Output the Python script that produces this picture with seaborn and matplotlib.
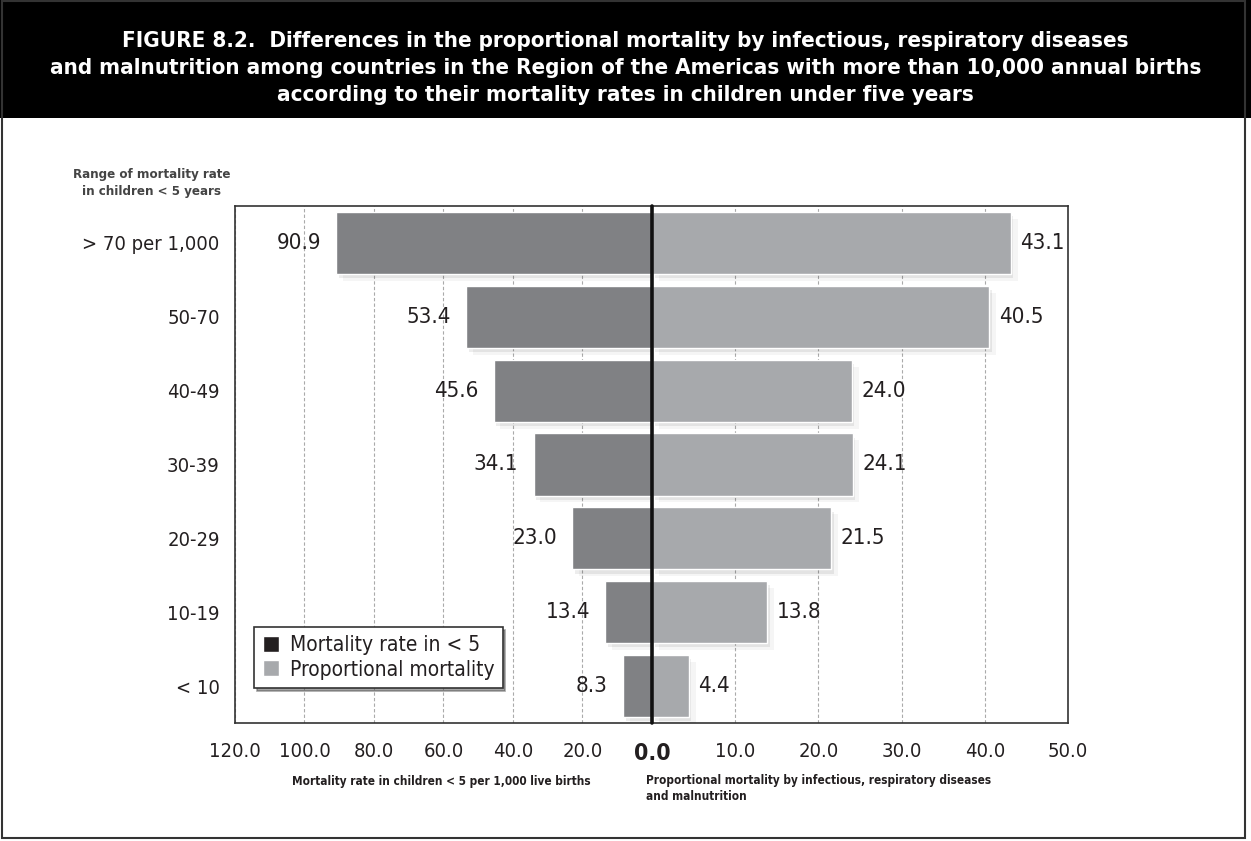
import matplotlib
matplotlib.use("Agg")
import matplotlib.pyplot as plt
import matplotlib.patheffects as pe
from matplotlib.patches import Patch, Rectangle
import seaborn as sns

# data
ranges = ["> 70 per 1,000", "50-70", "40-49", "30-39", "20-29", "10-19", "< 10"]
mortality_rate = [90.9, 53.4, 45.6, 34.1, 23.0, 13.4, 8.3]
proportional = [43.1, 40.5, 24.0, 24.1, 21.5, 13.8, 4.4]
left_ticks = [120, 100, 80, 60, 40, 20]
right_ticks = [0, 10, 20, 30, 40, 50]

DARK = "#808184"
LIGHT = "#a7a9ac"
TXT = "#231f20"

sns.set_style("white")
plt.rcParams["font.family"] = ["DejaVu Sans"]
plt.rcParams["font.stretch"] = "condensed"

W, H = 1251, 841
fig = plt.figure(figsize=(W / 100, H / 100), dpi=100)

# title band and outer border
fig.patches.append(Rectangle((0, 1 - 118 / H), 1, 118 / H, transform=fig.transFigure,
                             facecolor="black", edgecolor="none", zorder=0))
fig.patches.append(Rectangle((2 / W, 3 / H), 1243 / W, 1 - 4 / H, transform=fig.transFigure,
                             facecolor="none", edgecolor="#333333", lw=1.5, zorder=0))
fig.text(0.5, 1 - 68 / H,
         "FIGURE 8.2.  Differences in the proportional mortality by infectious, respiratory diseases\n"
         "and malnutrition among countries in the Region of the Americas with more than 10,000 annual births\n"
         "according to their mortality rates in children under five years",
         ha="center", va="center", color="white", fontsize=16, fontweight="bold", linespacing=1.45)

bottom = 1 - 723 / H
height = (723 - 206) / H
axL = fig.add_axes([235 / W, bottom, (652 - 235) / W, height])
axR = fig.add_axes([652 / W, bottom, (1068 - 652) / W, height], sharey=axL)

shadow = [pe.SimplePatchShadow(offset=(2, -3), shadow_rgbFace="k", alpha=0.07),
          pe.SimplePatchShadow(offset=(5, -5), shadow_rgbFace="k", alpha=0.04),
          pe.Normal()]

sns.barplot(x=mortality_rate, y=ranges, ax=axL, orient="h", color=DARK,
            saturation=1, width=0.84, zorder=3)
sns.barplot(x=proportional, y=ranges, ax=axR, orient="h", color=LIGHT,
            saturation=1, width=0.84, zorder=3)

for ax in (axL, axR):
    for bar in ax.patches:
        bar.set_path_effects(shadow)

axL.set_xlim(120, 0)
axR.set_xlim(0, 50)

axL.bar_label(axL.containers[0], fmt="%.1f", padding=11, fontsize=16, color=TXT)
axR.bar_label(axR.containers[0], fmt="%.1f", padding=7, fontsize=16, color=TXT)

for ax, ticks in ((axL, left_ticks), (axR, right_ticks)):
    ax.set_xticks(ticks)
    ax.set_xticklabels([f"{t:.1f}" for t in ticks])
    ax.tick_params(axis="x", length=0, pad=14, labelsize=14.5, labelcolor=TXT)
    ax.grid(axis="x", color="#aaaaaa", linestyle=(0, (3, 2)), linewidth=0.8, zorder=0)
    ax.set_axisbelow(True)
    ax.set_xlabel("")
    ax.set_ylabel("")
    for s in ax.spines.values():
        s.set_color("#333333")
        s.set_linewidth(1.2)

axR.get_xticklabels()[0].set_fontweight("bold")
axR.get_xticklabels()[0].set_fontsize(16.5)

axL.tick_params(axis="y", length=0, pad=11, labelsize=14.5, labelcolor=TXT)
axR.tick_params(axis="y", left=False, labelleft=False, length=0)
axL.spines["right"].set_visible(False)
axR.spines["left"].set_visible(False)
axR.axvline(0, color="#111111", lw=2.6, zorder=5, clip_on=False)

handles = [Patch(facecolor="#231f20", label="Mortality rate in < 5"),
           Patch(facecolor=LIGHT, label="Proportional mortality")]
leg = axL.legend(handles=handles, loc="lower left", bbox_to_anchor=(0.046, 0.068),
                 borderaxespad=0, fontsize=15, frameon=True, fancybox=False, shadow=True,
                 handlelength=0.8, handleheight=0.8, handletextpad=0.5,
                 labelspacing=0.2, borderpad=0.4, labelcolor=TXT)
leg.get_frame().set_edgecolor("#333333")
leg.get_frame().set_linewidth(1.2)

fig.text(152 / W, 1 - 183 / H, "Range of mortality rate\nin children < 5 years",
         ha="center", va="center", fontsize=9.5, fontweight="bold", color="#444444",
         linespacing=1.35)
fig.text(441 / W, 1 - 781 / H, "Mortality rate in children < 5 per 1,000 live births",
         ha="center", va="center", fontsize=8.5, fontweight="bold", color=TXT)
fig.text(646 / W, 1 - 774 / H,
         "Proportional mortality by infectious, respiratory diseases\nand malnutrition",
         ha="left", va="top", fontsize=8.5, fontweight="bold", color=TXT, linespacing=1.35)

fig.savefig("out.png", dpi=100)
